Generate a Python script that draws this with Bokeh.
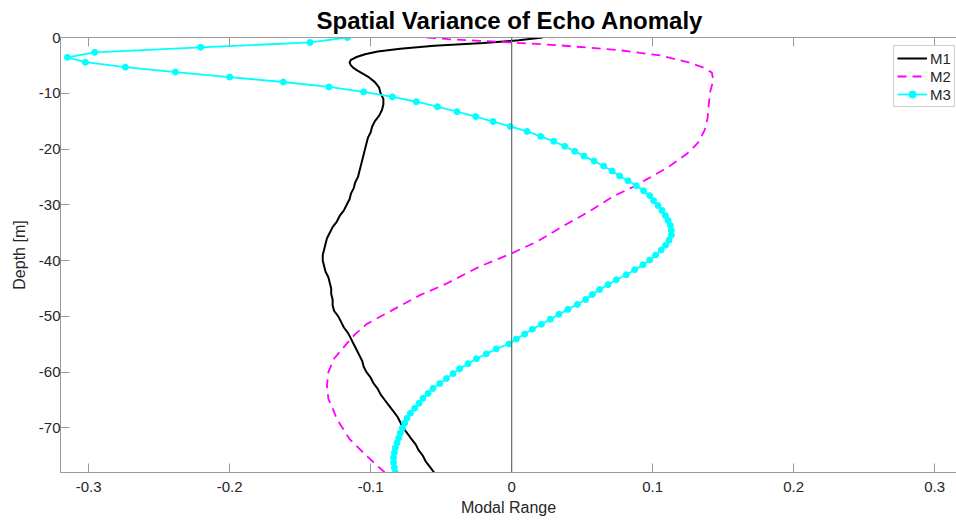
from bokeh.plotting import figure
from bokeh.models import Range1d, LinearAxis, FixedTicker, Span, Legend, LegendItem
from bokeh.embed import file_html
from bokeh.resources import INLINE

TITLE = "Spatial Variance of Echo Anomaly"
X_LABEL = "Modal Range"
Y_LABEL = "Depth [m]"
SERIES = ["M1", "M2", "M3"]
X_TICKS = [-0.3, -0.2, -0.1, 0.0, 0.1, 0.2, 0.3]
X_TICK_LABELS = ["-0.3", "-0.2", "-0.1", "0", "0.1", "0.2", "0.3"]
Y_TICKS = [0, -10, -20, -30, -40, -50, -60, -70]
Y_TICK_LABELS = ["0", "-10", "-20", "-30", "-40", "-50", "-60", "-70"]

# M1 (black solid)
m1_depth = [0, -0.5, -1.0, -1.5, -2.0, -2.5, -3.0, -3.5, -4.0, -4.5, -5.0, -5.5, -6.0,
            -7.0, -8.0, -9.0, -10.0, -11.0, -12.0, -13.0, -14.0, -15.0, -16.0, -17.0,
            -18.0, -19.0, -20.0, -22.0, -24.0, -25.0, -26.0, -27.0, -28.0, -29.0, -30.0,
            -31.0, -32.0, -33.0, -34.0, -35.0, -36.0, -37.0, -38.0, -39.0, -40.0, -41.0,
            -42.0, -43.0, -44.0, -45.0, -46.0, -47.0, -48.0, -49.0, -50.0, -51.0, -52.0,
            -53.0, -54.0, -55.0, -56.0, -57.0, -58.0, -59.0, -60.0, -61.0, -62.0, -63.0,
            -64.0, -65.0, -66.0, -67.0, -68.0, -69.0, -70.0, -71.0, -72.0, -73.0, -74.0,
            -75.0, -76.0, -77.0, -78.0]
m1_value = [0.022, 0.005, -0.02, -0.055, -0.079, -0.095, -0.104, -0.110, -0.114, -0.115,
            -0.114, -0.112, -0.109, -0.102, -0.097, -0.094, -0.093, -0.091, -0.091, -0.092,
            -0.094, -0.097, -0.099, -0.100, -0.102, -0.103, -0.104, -0.106, -0.108, -0.109,
            -0.111, -0.112, -0.114, -0.115, -0.117, -0.119, -0.122, -0.124, -0.127, -0.129,
            -0.131, -0.132, -0.133, -0.134, -0.134, -0.133, -0.132, -0.130, -0.129, -0.128,
            -0.128, -0.127, -0.127, -0.126, -0.123, -0.121, -0.119, -0.116, -0.114, -0.112,
            -0.110, -0.108, -0.106, -0.105, -0.103, -0.100, -0.098, -0.095, -0.093, -0.090,
            -0.087, -0.084, -0.081, -0.079, -0.077, -0.074, -0.071, -0.068, -0.066, -0.063,
            -0.061, -0.058, -0.055]

# M2 (magenta dashed)
m2_depth = [0, -0.3, -0.6, -0.9, -1.4, -2.3, -3.2, -4.5, -5.5, -6.3, -7.7, -9.5, -11.4,
            -14.4, -16.5, -18.6, -20.0, -20.9, -22.0, -23.4, -25.4, -26.8, -28.5, -31.2,
            -33.9, -36.6, -38.7, -41.1, -44.1, -46.2, -48.8, -51.4, -53.2, -54.9, -57.6,
            -60.0, -62.4, -64.8, -66.5, -68.4, -72.0, -75.0, -78.0]
m2_value = [-0.060, -0.045, -0.023, 0.000, 0.034, 0.077, 0.105, 0.126, 0.137, 0.142, 0.143,
            0.141, 0.140, 0.139, 0.137, 0.133, 0.128, 0.124, 0.118, 0.110, 0.096, 0.086,
            0.072, 0.055, 0.036, 0.018, 0.000, -0.023, -0.046, -0.065, -0.084, -0.103,
            -0.111, -0.117, -0.126, -0.130, -0.131, -0.130, -0.127, -0.124, -0.115, -0.103,
            -0.090]

# M3 (cyan with markers)
m3_depth = [0, -0.89, -1.77, -2.66, -3.55, -4.43, -5.32, -6.20, -7.09, -7.98, -8.86, -9.75,
            -10.64, -11.52, -12.41, -13.30, -14.18, -15.07, -15.95, -16.84, -17.73, -18.61,
            -19.50, -20.39, -21.27, -22.16, -23.05, -23.93, -24.82, -25.70, -26.59, -27.48,
            -28.36, -29.25, -30.14, -31.02, -31.91, -32.80, -33.68, -34.57, -35.45, -36.34,
            -37.23, -38.11, -39.00, -39.89, -40.77, -41.66, -42.55, -43.43, -44.32, -45.20,
            -46.09, -46.98, -47.86, -48.75, -49.64, -50.52, -51.41, -52.30, -53.18, -54.07,
            -54.95, -55.84, -56.73, -57.61, -58.50, -59.39, -60.27, -61.16, -62.05, -62.93,
            -63.82, -64.70, -65.59, -66.48, -67.36, -68.25, -69.14, -70.02, -70.91, -71.80,
            -72.68, -73.57, -74.45, -75.34, -76.23, -77.11, -78.00]
m3_value = [-0.1165, -0.143, -0.2206, -0.2957, -0.3151, -0.3024, -0.274, -0.2385, -0.200,
            -0.162, -0.1296, -0.105, -0.0846, -0.0676, -0.0527, -0.0388, -0.0255, -0.0132,
            -0.001, 0.0109, 0.0206, 0.0298, 0.0376, 0.0447, 0.0513, 0.0584, 0.0652, 0.0712,
            0.0766, 0.0825, 0.0884, 0.0936, 0.0979, 0.1007, 0.1038, 0.1066, 0.109, 0.1109,
            0.1125, 0.1132, 0.1132, 0.1116, 0.1092, 0.1061, 0.1021, 0.0979, 0.0931, 0.0872,
            0.0813, 0.0742, 0.0683, 0.0624, 0.0572, 0.0525, 0.0466, 0.0399, 0.0335, 0.0274,
            0.0211, 0.0147, 0.0092, 0.0033, -0.0019, -0.0109, -0.018, -0.025, -0.031,
            -0.0369, -0.0416, -0.0463, -0.051, -0.0558, -0.0593, -0.0629, -0.0657, -0.0688,
            -0.0718, -0.0742, -0.0759, -0.0775, -0.079, -0.0801, -0.0813, -0.0825, -0.0832,
            -0.0838, -0.0838, -0.0832, -0.0825]

FONT = "Liberation Sans, Arial, Helvetica, sans-serif"
AXIS_COLOR = "#9a9a9a"
TEXT_COLOR = "#262626"

p = figure(width=956, height=520, output_backend="svg", toolbar_location=None,
           x_range=Range1d(-0.32, 0.3155), y_range=Range1d(-78, 0),
           min_border_left=60, min_border_right=0, min_border_top=0, min_border_bottom=48)
p.outline_line_color = None
p.xgrid.visible = False
p.ygrid.visible = False
p.background_fill_color = "white"
p.border_fill_color = "white"

p.title.text = TITLE
p.title.align = "left"
p.title.offset = 256
p.title.text_font = FONT
p.title.text_font_size = "24px"
p.title.text_font_style = "bold"
p.title.text_color = "black"
p.title.standoff = 8


def style_axis(ax, ticks, labels):
    ax.ticker = FixedTicker(ticks=ticks)
    ax.major_label_overrides = {t: l for t, l in zip(ticks, labels)}
    ax.axis_line_color = AXIS_COLOR
    ax.major_tick_line_color = AXIS_COLOR
    ax.major_tick_in = 9
    ax.major_tick_out = 0
    ax.minor_tick_line_color = None
    ax.major_label_text_font = FONT
    ax.major_label_text_font_size = "15px"
    ax.major_label_text_color = TEXT_COLOR
    ax.axis_label_text_font = FONT
    ax.axis_label_text_font_size = "16px"
    ax.axis_label_text_font_style = "normal"
    ax.axis_label_text_color = TEXT_COLOR


style_axis(p.xaxis[0], X_TICKS, X_TICK_LABELS)
style_axis(p.yaxis[0], Y_TICKS, Y_TICK_LABELS)
p.xaxis[0].axis_label = X_LABEL
p.yaxis[0].axis_label = Y_LABEL
p.xaxis[0].major_label_standoff = 9
p.xaxis[0].axis_label_standoff = 4
p.yaxis[0].major_label_standoff = 0
p.yaxis[0].axis_label_standoff = 8

top = LinearAxis()
style_axis(top, X_TICKS, ["" for _ in X_TICKS])
top.major_label_standoff = 0
p.add_layout(top, "above")

p.add_layout(Span(location=0, dimension="height", line_color="#6a6a6a", line_width=1.2))

r1 = p.line(m1_value, m1_depth, line_color="black", line_width=2)
r2 = p.line(m2_value, m2_depth, line_color="#ff00ff", line_width=1.8, line_dash="9 6")
r3l = p.line(m3_value, m3_depth, line_color="#00ffff", line_width=1.8)
r3m = p.scatter(m3_value, m3_depth, marker="circle", size=6, fill_color="#00ffff",
                line_color="#00ffff")

legend = Legend(items=[LegendItem(label=SERIES[0], renderers=[r1]),
                       LegendItem(label=SERIES[1], renderers=[r2]),
                       LegendItem(label=SERIES[2], renderers=[r3l, r3m])],
                location=(833, 365), orientation="vertical",
                border_line_color="#a0a0a0", border_line_width=1,
                background_fill_color="white", background_fill_alpha=1,
                label_text_font=FONT, label_text_font_size="15px",
                label_text_color=TEXT_COLOR, glyph_width=30, glyph_height=18,
                label_height=18, label_standoff=3, spacing=0, padding=3, margin=0)
p.add_layout(legend, "center")

open("out.html", "w").write(file_html(p, INLINE))
